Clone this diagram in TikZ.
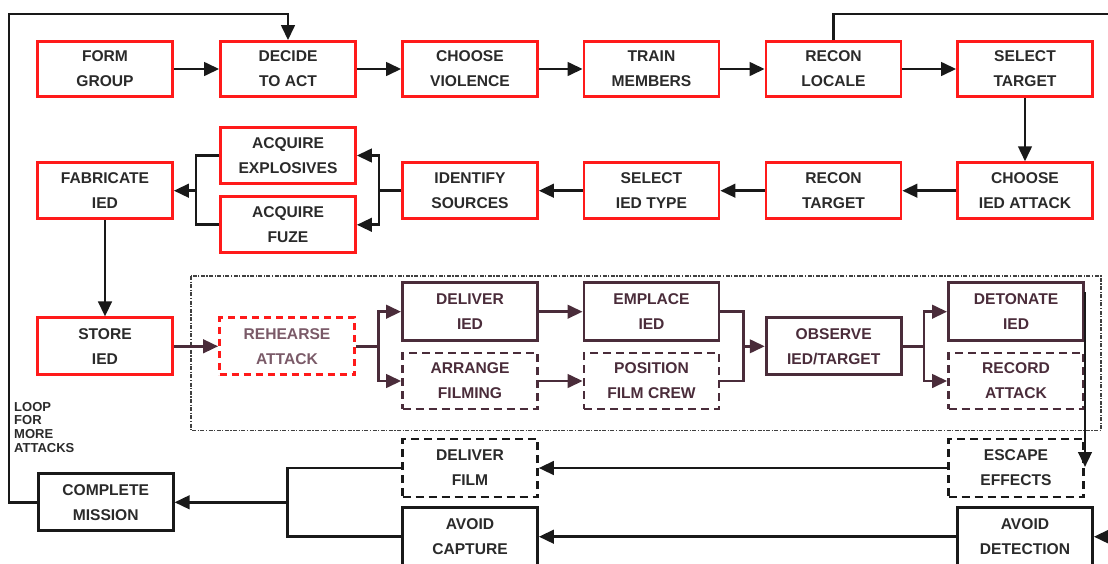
\documentclass[tikz,border=0pt]{standalone}
\usepackage{fontspec}
\setmainfont{Liberation Sans}
\usetikzlibrary{arrows.meta,calc}
\definecolor{boxred}{HTML}{FF1A1A}
\definecolor{plum}{HTML}{4A2C3A}
\definecolor{mauve}{HTML}{7A5A68}
\definecolor{txtgray}{HTML}{2A2A2A}
\tikzset{
  base/.style={minimum width=135pt, minimum height=56pt, inner sep=0pt, align=center,
    font=\fontsize{15.6}{25}\selectfont\bfseries},
  redbox/.style={base, draw=boxred, line width=2.7pt, text=txtgray},
  reddash/.style={base, draw=boxred, line width=2.7pt, text=mauve, dash pattern=on 7pt off 5pt},
  plumbox/.style={base, draw=plum, line width=2.9pt, text=plum},
  plumdash/.style={base, draw=plum, line width=2.7pt, text=plum, dash pattern=on 8pt off 5pt},
  blkbox/.style={base, draw=black!90, line width=2.7pt, text=txtgray},
  blkdash/.style={base, draw=black!90, line width=2.5pt, text=txtgray, dash pattern=on 8pt off 5pt},
  conn/.style={line width=2.7pt, draw=black!90},
  arr/.style={conn, -{Triangle[length=15pt,width=13.5pt]}},
  pconn/.style={line width=2.7pt, draw=plum},
  parr/.style={pconn, -{Triangle[length=15pt,width=13.5pt]}},
  framestyle/.style={line width=1.3pt, draw=black!75, dash pattern=on 4pt off 1.5pt on 1.2pt off 1.5pt},
}
\begin{document}
\begin{tikzpicture}[x=1pt,y=-1pt]
\useasboundingbox (0,0) rectangle (1108,563);
\clip (0,0) rectangle (1108,563);
% row 1
\node[redbox, minimum height=55pt] (form) at (105,69) {FORM\\GROUP};
\node[redbox, minimum height=55pt] (decide) at (288,69) {DECIDE\\TO ACT};
\node[redbox, minimum height=55pt] (choosev) at (470,69) {CHOOSE\\VIOLENCE};
\node[redbox, minimum height=55pt] (train) at (651.5,69) {TRAIN\\MEMBERS};
\node[redbox, minimum height=55pt] (reconl) at (833.5,69) {RECON\\LOCALE};
\node[redbox, minimum height=55pt] (selt) at (1025,69) {SELECT\\TARGET};
% row 2
\node[redbox] (fab) at (105,190.7) {FABRICATE\\IED};
\node[redbox] (acqe) at (288,155.5) {ACQUIRE\\EXPLOSIVES};
\node[redbox] (acqf) at (288,224.8) {ACQUIRE\\FUZE};
\node[redbox] (ident) at (470,190.7) {IDENTIFY\\SOURCES};
\node[redbox] (seltype) at (651.5,190.7) {SELECT\\IED TYPE};
\node[redbox] (recont) at (833.5,190.7) {RECON\\TARGET};
\node[redbox] (cia) at (1025,190.7) {CHOOSE\\IED ATTACK};
% row 3
\node[redbox, minimum height=57pt] (store) at (105,346.3) {STORE\\IED};
\node[reddash, minimum height=57pt] (rehearse) at (287,346.3) {REHEARSE\\ATTACK};
\node[plumbox, minimum height=58pt] (delied) at (470,311.7) {DELIVER\\IED};
\node[plumdash] (arrange) at (470,381) {ARRANGE\\FILMING};
\node[plumbox, minimum height=58pt] (emplace) at (651.5,311.7) {EMPLACE\\IED};
\node[plumdash] (position) at (651.5,381) {POSITION\\FILM CREW};
\node[plumbox, minimum height=57pt] (observe) at (833.7,346.3) {OBSERVE\\IED/TARGET};
\node[plumbox, minimum height=58pt] (detonate) at (1016,311.7) {DETONATE\\IED};
\node[plumdash] (record) at (1016,381) {RECORD\\ATTACK};
% bottom
\node[blkdash, minimum height=58pt] (dfilm) at (470,468) {DELIVER\\FILM};
\node[blkdash, minimum height=58pt] (escape) at (1016,468) {ESCAPE\\EFFECTS};
\node[blkbox, minimum height=57pt] (complete) at (105.7,502.3) {COMPLETE\\MISSION};
\node[blkbox, minimum height=58pt] (avcap) at (470,536.7) {AVOID\\CAPTURE};
\node[blkbox, minimum height=58pt] (avdet) at (1025,536.7) {AVOID\\DETECTION};
% frame
\draw[framestyle] (191,276) rectangle (1101,430.7);
% label
\node[anchor=north west, inner sep=0pt, align=left, text=txtgray,
  font=\fontsize{13}{13.7}\selectfont\bfseries] (loop) at (14,402) {LOOP\\FOR\\MORE\\ATTACKS};
% coordinates
\coordinate (c1) at (9,14);
\coordinate (edge1) at (1110,14);
\coordinate (edge2) at (1110,536.7);
\coordinate (j1) at (196,190.7);
\coordinate (j2) at (379,190.7);
\coordinate (j3) at (378.6,346.3);
\coordinate (j4) at (743.7,346.3);
\coordinate (j5) at (924,346.3);
\coordinate (j6) at (287.5,502.3);
\coordinate (d1) at (1085,292);
\coordinate (d2) at (1085,467);
% row 1 connectors
\draw[arr] (form) -- (decide);
\draw[arr] (decide) -- (choosev);
\draw[arr] (choosev) -- (train);
\draw[arr] (train) -- (reconl);
\draw[arr] (reconl) -- (selt);
\draw[arr] (selt) -- (cia);
\draw[conn] (reconl.north) |- (edge1);
\draw[arr] (complete.west) -| (c1) -| (decide.north);
% row 2
\draw[arr] (cia) -- (recont);
\draw[arr] (recont) -- (seltype);
\draw[arr] (seltype) -- (ident);
\draw[conn] (ident.west) -- (j2);
\draw[arr] (j2) |- (acqe.east);
\draw[arr] (j2) |- (acqf.east);
\draw[conn] (acqe.west) -| (j1) |- (acqf.west);
\draw[arr] (j1) -- (fab.east);
\draw[arr] (fab) -- (store);
% row 3
\draw[parr] (store) -- (rehearse);
\draw[pconn] (rehearse.east) -- (j3);
\draw[parr] (j3) |- (delied.west);
\draw[parr] (j3) |- (arrange.west);
\draw[parr] (delied) -- (emplace);
\draw[parr] (arrange) -- (position);
\draw[pconn] (emplace.east) -| (j4) |- (position.east);
\draw[parr] (j4) -- (observe.west);
\draw[pconn] (observe.east) -- (j5);
\draw[parr] (j5) |- (detonate.west);
\draw[parr] (j5) |- (record.west);
\draw[arr] (d1) -- (d2);
% bottom
\draw[arr] (escape.west) -- (dfilm.east);
\draw[arr] (avdet.west) -- (avcap.east);
\draw[arr] (edge2) -- (avdet.east);
\draw[conn] (dfilm.west) -| (j6) |- (avcap.west);
\draw[arr] (j6) -- (complete.east);
\end{tikzpicture}
\end{document}
